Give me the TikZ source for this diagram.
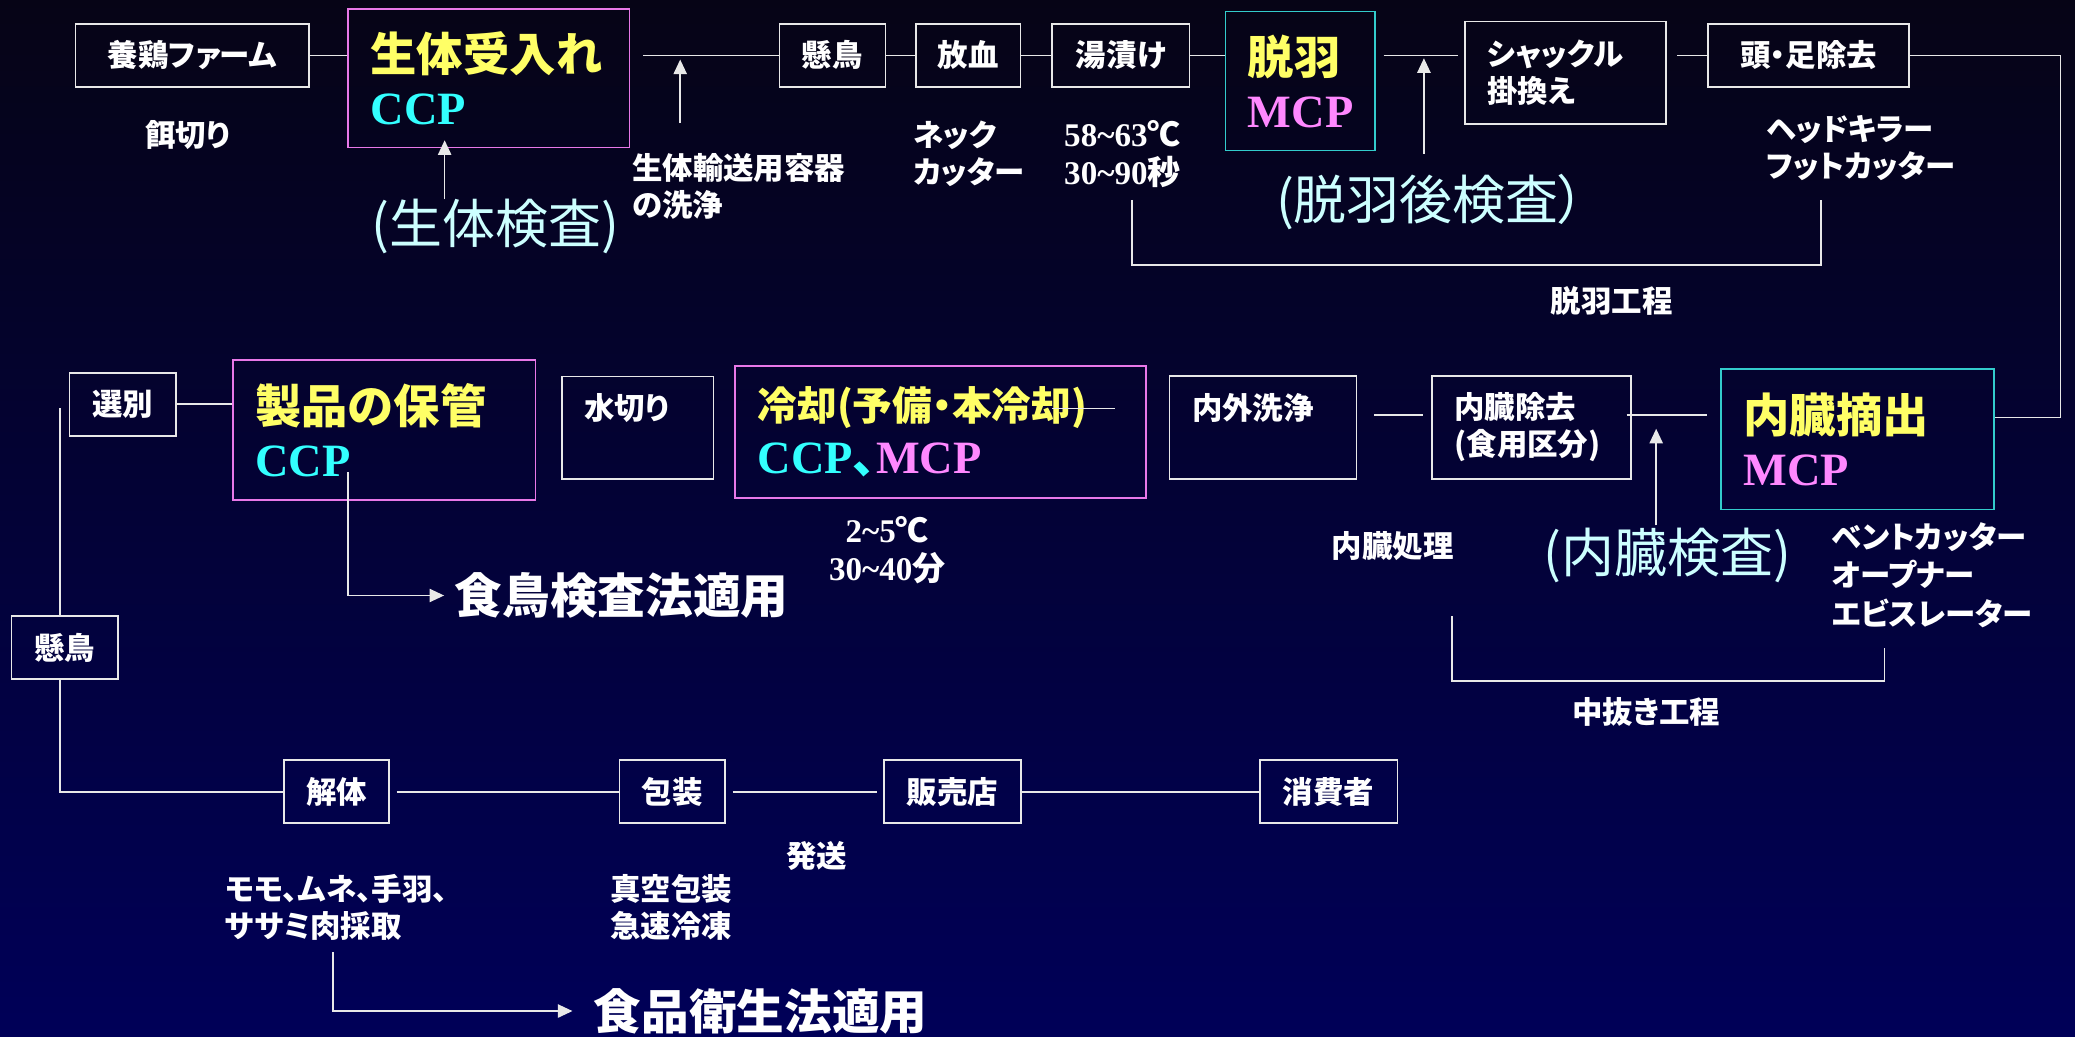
\documentclass[tikz,border=0pt]{standalone}
\usepackage{fontspec}
\setmainfont{Noto Sans CJK JP}[RawFeature=+palt]
\newfontfamily\tnr{Liberation Serif}
\usetikzlibrary{arrows.meta}
\definecolor{bgtop}{RGB}{6,4,22}
\definecolor{bgbot}{RGB}{0,0,88}
\definecolor{lin}{RGB}{232,232,232}
\definecolor{ylw}{RGB}{255,255,102}
\definecolor{cyn}{RGB}{51,255,255}
\definecolor{pnk}{RGB}{255,136,255}
\definecolor{lcy}{RGB}{204,255,255}
\definecolor{pbord}{RGB}{232,120,232}
\definecolor{cbord}{RGB}{51,204,204}
\newcommand\labfont{\fontsize{23}{28}\selectfont\bfseries}
\newcommand\ttlfont{\fontsize{35}{40}\selectfont\bfseries}
\newcommand\insfont{\fontsize{40}{44}\selectfont}
\newcommand\lawfont{\fontsize{36}{40}\selectfont\bfseries}
\newcommand\ccp{\tnr\bfseries\color{cyn}}
\newcommand\mcp{\tnr\bfseries\color{pnk}}
\begin{document}
\begin{tikzpicture}[x=1pt,y=-1pt,
  box/.style={draw=lin,line width=1.2pt,text=white,font=\labfont,inner sep=0pt,minimum height=47.6},
  lbox/.style={box,align=left,inner xsep=17pt},
  tbox/.style={box,draw=#1,text=ylw,font=\ttlfont,align=left,inner xsep=17pt},
  note/.style={text=white,font=\labfont,align=left,inner sep=0pt},
  insp/.style={text=lcy,font=\insfont,inner sep=0pt},
  law/.style={text=white,font=\lawfont,inner sep=0pt},
  link/.style={draw=lin,line width=1.2pt},
  arr/.style={link,-{Triangle[length=11pt,width=10pt]}}]
\useasboundingbox (0,0) rectangle (1568,783);
\shade[top color=bgtop,bottom color=bgbot] (0,0) rectangle (1568,783);

\node (farm) at (145.3,41.8) [box,minimum width=176.5] {養鶏ファーム};
\node (recv) at (369.3,59.2) [tbox=pbord,minimum width=212.5,minimum height=104.8,text width=178.5] {生体受入れ\\{\ccp CCP}};
\node (hang1) at (629,41.8) [box,minimum width=80] {懸鳥};
\node (bleed) at (731.5,41.8) [box,minimum width=79] {放血};
\node (scald) at (847,41.8) [box,minimum width=104] {湯漬け};
\node (pluck) at (982.5,61.3) [tbox=cbord,minimum width=113,minimum height=105,text width=79] {脱羽\\{\mcp MCP}};
\node (shackle) at (1183,55) [lbox,minimum width=152,minimum height=77.3,text width=118] {シャックル\\掛換え};
\node (headfoot) at (1366.6,41.8) [box,minimum width=152] {頭・足除去};

\node (sort) at (92.8,305.5) [box,minimum width=80.5] {選別};
\node (store) at (290.3,325) [tbox=pbord,minimum width=228.6,minimum height=106,text width=194.6] {製品の保管\\{\ccp CCP}};
\node (drain) at (481.9,323.3) [lbox,minimum width=114.8,minimum height=77.4,text width=80.8,text height=20pt,text depth=32pt] {水切り};
\node (chill) at (710.8,326.5) [tbox=pbord,minimum width=310.5,minimum height=100,text width=276.5] {{\fontsize{30}{40}\selectfont 冷却(予備・本冷却)}\\{\ccp CCP}{\color{cyn}、}{\mcp MCP}};
\node (wash) at (954.4,323) [lbox,minimum width=141.2,minimum height=78,text width=107.2,text height=20pt,text depth=32pt] {内外洗浄};
\node (evisc) at (1157.3,323) [lbox,minimum width=150.5,minimum height=78,text width=116.5] {内臓除去\\(食用区分)};
\node (extract) at (1403.6,332) [tbox=cbord,minimum width=206,minimum height=106,text width=172] {内臓摘出\\{\mcp MCP}};

\node (hang2) at (48.9,489.5) [box,minimum width=80.2] {懸鳥};
\node (cut) at (254.3,598.3) [box,minimum width=79.5] {解体};
\node (pack) at (508,598.3) [box,minimum width=80] {包装};
\node (shop) at (719.8,598.3) [box,minimum width=103.5] {販売店};
\node (consumer) at (1004,598.3) [box,minimum width=104] {消費者};

\node (feed) at (142,102) [note] {餌切り};
\node (crate) at (477.5,141) [note,anchor=west] {生体輸送用容器\\の洗浄};
\node (neck) at (690,116.5) [note,anchor=west] {ネック\\カッター};
\node (temp1) at (804,116.5) [note,anchor=west,font=\fontsize{25}{29}\selectfont\bfseries] {{\tnr 58\textasciitilde63}℃\\{\tnr 30\textasciitilde90}秒};
\node (heads) at (1334.5,112) [note,anchor=west] {ヘッドキラー\\フットカッター};
\node (plproc) at (1218,227.5) [note] {脱羽工程};
\node (insp1) at (374.5,171.5) [insp] {(生体検査)};
\node (insp2) at (1081,153) [insp] {(脱羽後検査）};
\node (temp2) at (670.5,415.5) [note,align=center,font=\fontsize{25}{29}\selectfont\bfseries] {{\tnr 2\textasciitilde5}℃\\{\tnr 30\textasciitilde40}分};
\node (visproc) at (1052.5,413) [note] {内臓処理};
\node (insp3) at (1260,420) [insp] {(内臓検査)};
\node (tools) at (1384,434.5) [note,anchor=west,font=\fontsize{23}{29}\selectfont\bfseries] {ベントカッター\\オープナー\\エビスレーター};
\node (evproc) at (1244,538) [note] {中抜き工程};
\node (ship) at (617,647) [note] {発送};
\node (parts) at (170,685.5) [note,anchor=west] {モモ、ムネ、手羽、\\ササミ肉採取};
\node (vac) at (461,685.5) [note,anchor=west] {真空包装\\急速冷凍};
\node (law1) at (343.6,450) [law,anchor=west] {食鳥検査法適用};
\node (law2) at (448.6,764) [law,anchor=west] {食品衛生法適用};

\coordinate (rturn) at (1557,41.8);
\coordinate (lt) at (45.5,308.5);
\coordinate (a1) at (336,106);
\coordinate (a2) at (514,45);
\coordinate (a3) at (1076,44);
\coordinate (a4) at (1251.5,324);
\coordinate (a5) at (263,357);
\coordinate (a6) at (251.5,719.6);
\coordinate (s1) at (795,308.6);
\coordinate (b1) at (855.5,151);
\coordinate (b2) at (1376,151);
\coordinate (b3) at (1097.3,465.5);
\coordinate (b4) at (1424,490);

\draw[link] (farm.east) -- (farm.east -| recv.west);
\draw[link,shorten <=10pt] (recv.east |- hang1) -- (hang1.west);
\draw[link] (hang1) -- (bleed);
\draw[link] (bleed) -- (scald);
\draw[link] (scald.east) -- (scald.east -| pluck.west);
\draw[link,shorten <=6pt,shorten >=5pt] (pluck.east |- headfoot) -- (shackle.west |- headfoot);
\draw[link,shorten <=8pt] (shackle.east |- headfoot) -- (headfoot.west);
\draw[link] (headfoot.east) -- (rturn) |- ([yshift=16.4pt]extract.east);
\draw[arr] (a1 |- insp1.north) -- (a1);
\draw[arr] (a2) ++(0,48) -- (a2);
\draw[arr] (a3) ++(0,72) -- (a3);

\draw[link] (sort.east) -- (sort.east -| store.west);
\draw[link] (s1) -- ++(47.5,0);
\draw[link,shorten <=13pt,shorten >=6pt] ([yshift=9.4pt]wash.east) -- ([yshift=9.4pt]evisc.west);
\draw[link,shorten <=-4pt,shorten >=10pt] ([yshift=9.4pt]evisc.east) -- ([yshift=9.4pt]evisc.east -| extract.west);
\draw[arr] (a4) ++(0,73) -- (a4);
\draw[arr,shorten >=8pt] (a5) |- (law1.west);

\draw[link] (lt) -- (lt |- hang2.north);
\draw[link] (lt |- hang2.south) |- (cut.west);
\draw[link,shorten <=5pt] (cut) -- (pack);
\draw[link,shorten <=5pt,shorten >=5pt] (pack) -- (shop);
\draw[link] (shop) -- (consumer);
\draw[arr,shorten >=16pt] (a6) |- (law2.west);

\draw[link] (b1) -- ++(0,49.3) -| (b2);
\draw[link] (b3) -- ++(0,49) -| (b4);
\end{tikzpicture}
\end{document}
